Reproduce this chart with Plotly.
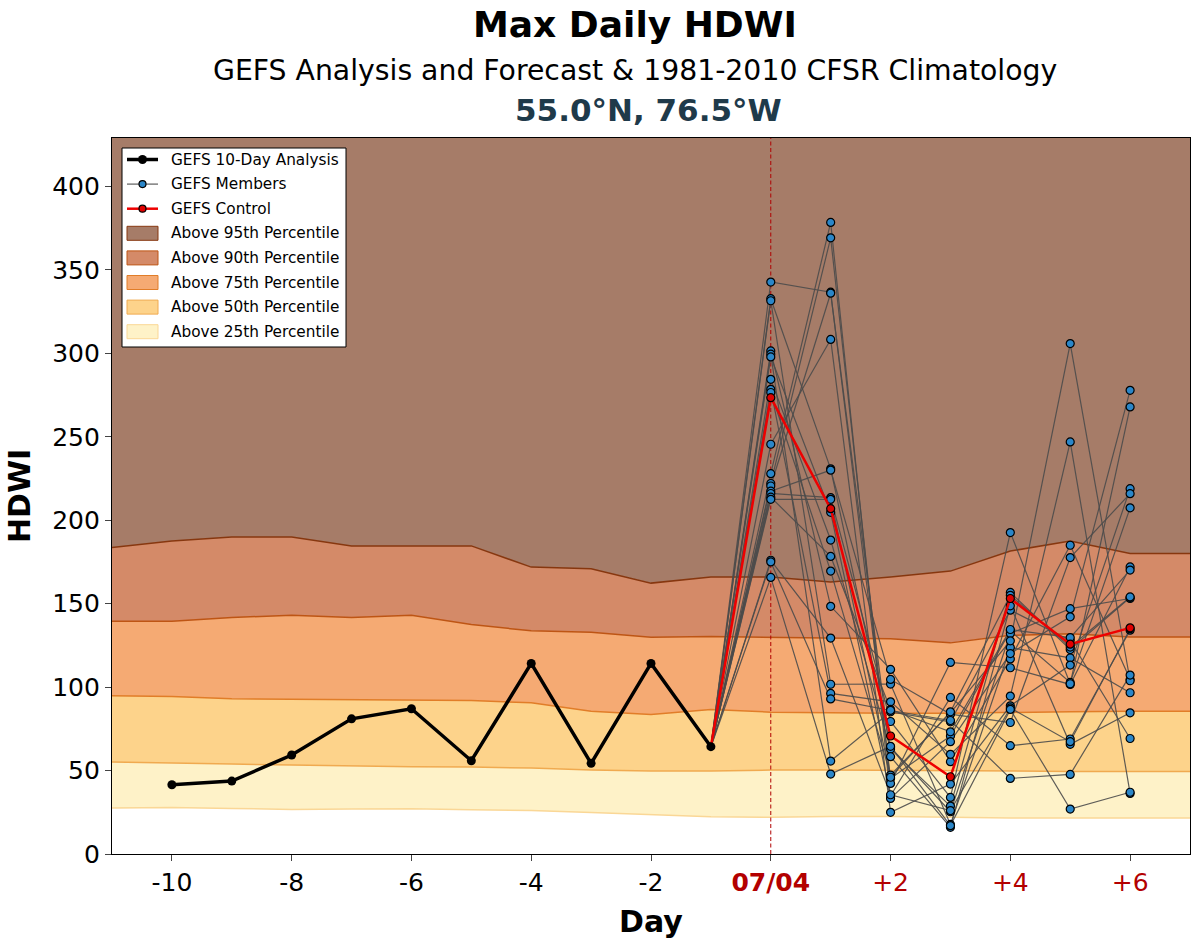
import plotly.graph_objects as go

# ---------------- data ----------------
clim_days = list(range(-11, 8))
p95 = [183.6, 187.6, 190, 190, 184.6, 184.6, 184.6, 171.9, 170.9, 162.3, 166, 166, 163, 166, 169.5, 181.5, 187.5, 180, 180]
p90 = [139.5, 139.5, 141.7, 143.1, 141.7, 143.1, 137.5, 133.7, 132.9, 129.9, 130.3, 130, 129.5, 129, 126.5, 131, 132, 130, 130]
p75 = [94.8, 94.4, 93, 92.8, 92.4, 92.4, 92, 90.6, 85.6, 83.6, 86.6, 85, 84.5, 84.3, 84.3, 85, 85.3, 85.5, 85.5]
p50 = [55.1, 54.7, 53.9, 53.3, 52.7, 52.3, 52.1, 51.5, 50.3, 49.7, 49.7, 50.3, 50.3, 50, 50, 49.5, 49.5, 49.5, 49.5]
p25 = [27.5, 27.9, 27.3, 26.7, 26.9, 27.1, 26.5, 26.1, 24.9, 23.7, 22.3, 22, 22.5, 22.5, 22, 21.5, 21.5, 21.5, 21.5]

analysis_days = list(range(-10, 0))
analysis = [41.5, 43.7, 59.3, 81, 87, 55.9, 114.2, 54.3, 114.2, 64.3]

fcst_days = list(range(0, 7))
control = [273.4, 206.9, 70.7, 46.3, 153.1, 125.7, 135.5]

members = [
    [342.7, 336.6, 45.3, 70.7, 133.7, 102.8, 207.4],
    [332.7, 230.8, 63.9, 25.3, 132.1, 147.0, 153.1],
    [331.5, 101.7, 101.8, 17.7, 123.7, 117.5, 96.6],
    [301.4, 148.4, 110.6, 55.3, 116.9, 185.0, 104.5],
    [299.5, 55.7, 85.2, 79.2, 146.1, 128.0, 69.2],
    [297.8, 204.7, 34.9, 93.8, 64.9, 68.9, 134.1],
    [284.4, 188.1, 62.9, 28.7, 156.7, 122.5, 153.7],
    [278.4, 96.2, 91.2, 59.7, 94.6, 246.9, 36.3],
    [276.5, 169.5, 47.3, 84.5, 127.7, 305.8, 103.8],
    [245.5, 308.3, 25.0, 41.9, 88.8, 113.2, 218.9],
    [227.9, 378.4, 33.3, 67.3, 120.1, 142.1, 277.8],
    [222.0, 369.2, 42.3, 114.8, 111.6, 101.6, 172.0],
    [220.5, 336.0, 58.3, 16.0, 148.7, 65.7, 84.6],
    [217.4, 230.0, 104.6, 83.8, 78.8, 177.6, 215.9],
    [216.0, 213.5, 79.4, 33.9, 192.6, 102.0, 267.9],
    [213.8, 178.3, 86.6, 73.2, 134.5, 129.7, 170.1],
    [212.5, 212.5, 46.0, 85.2, 155.0, 124.0, 154.0],
    [176.0, 129.4, 35.5, 26.0, 87.5, 67.3, 135.0],
    [175.0, 92.9, 86.0, 80.0, 45.3, 47.7, 107.2],
    [165.7, 47.9, 64.5, 17.0, 86.6, 26.9, 37.0],
]

x_tick_vals = [-10, -8, -6, -4, -2, 0, 2, 4, 6]
x_tick_text = ["-10", "-8", "-6", "-4", "-2",
               "<b><span style='color:#b30000'>07/04</span></b>",
               "<span style='color:#b30000'>+2</span>",
               "<span style='color:#b30000'>+4</span>",
               "<span style='color:#b30000'>+6</span>"]
y_tick_vals = [0, 50, 100, 150, 200, 250, 300, 350, 400]

legend_names = ["GEFS 10-Day Analysis", "GEFS Members", "GEFS Control",
                "Above 95th Percentile", "Above 90th Percentile", "Above 75th Percentile",
                "Above 50th Percentile", "Above 25th Percentile"]

x_range = [-11, 7]
y_range = [0, 429]

# ---------------- styles ----------------
fill_cols = {
    "25": "rgb(254,242,200)",
    "50": "rgb(253,211,139)",
    "75": "rgb(245,170,115)",
    "90": "rgb(212,138,104)",
    "95": "rgb(166,124,104)",
}
edge_cols = {
    "25": "rgb(250,215,150)",
    "50": "rgb(240,170,80)",
    "75": "rgb(225,125,40)",
    "90": "rgb(190,85,20)",
    "95": "rgb(135,55,15)",
}
member_line = "rgba(75,75,75,0.9)"
member_fill = "#2b86c8"
ctrl_col = "#ee0000"

W, H = 1200, 948
ML, MR, MT, MB = 112, 10, 138, 94
PW, PH = W - ML - MR, H - MT - MB


def px(xp):
    return (xp - ML) / PW


def py(yp):
    return (H - MB - yp) / PH


fig = go.Figure()

top_line = [y_range[1]] * len(clim_days)
bands = [
    ("25", p25, p50),
    ("50", p50, p75),
    ("75", p75, p90),
    ("90", p90, p95),
    ("95", p95, top_line),
]
for key, lo, hi in bands:
    fig.add_trace(go.Scatter(x=clim_days, y=lo, mode="lines",
                             line=dict(width=0, color=fill_cols[key]),
                             showlegend=False, hoverinfo="skip"))
    fig.add_trace(go.Scatter(x=clim_days, y=hi, mode="lines", fill="tonexty",
                             fillcolor=fill_cols[key],
                             line=dict(width=0, color=fill_cols[key]),
                             showlegend=False, hoverinfo="skip"))

for key, arr in [("25", p25), ("50", p50), ("75", p75), ("90", p90), ("95", p95)]:
    fig.add_trace(go.Scatter(x=clim_days, y=arr, mode="lines",
                             line=dict(width=1.5, color=edge_cols[key]),
                             showlegend=False, hoverinfo="skip"))

# vertical dashed line at day 0
fig.add_trace(go.Scatter(x=[fcst_days[0], fcst_days[0]], y=y_range, mode="lines",
                         line=dict(color="#b00000", width=1, dash="4px,2.5px"),
                         showlegend=False, hoverinfo="skip"))

# members
mx, my = [], []
for m in members:
    mx += [analysis_days[-1]] + fcst_days + [None]
    my += [analysis[-1]] + m + [None]
fig.add_trace(go.Scatter(x=mx, y=my, mode="lines",
                         line=dict(color=member_line, width=1.2),
                         showlegend=False, hoverinfo="skip"))
pmx, pmy = [], []
for m in members:
    pmx += fcst_days
    pmy += m
fig.add_trace(go.Scatter(x=pmx, y=pmy, mode="markers",
                         marker=dict(color=member_fill, size=8, line=dict(color="black", width=1.2)),
                         showlegend=False))

# control
fig.add_trace(go.Scatter(x=[analysis_days[-1]] + fcst_days, y=[analysis[-1]] + control,
                         mode="lines", line=dict(color=ctrl_col, width=2.5),
                         showlegend=False, hoverinfo="skip"))
fig.add_trace(go.Scatter(x=fcst_days, y=control, mode="markers",
                         marker=dict(color="#e00000", size=8, line=dict(color="black", width=1.2)),
                         showlegend=False))

# analysis
fig.add_trace(go.Scatter(x=analysis_days, y=analysis, mode="lines+markers",
                         line=dict(color="black", width=3.5),
                         marker=dict(color="black", size=9),
                         showlegend=False))

# ---------------- manual legend ----------------
shapes = []
annotations = []
shapes.append(dict(type="rect", xref="paper", yref="paper",
                   x0=px(122), x1=px(346), y0=py(148), y1=py(347),
                   fillcolor="white", line=dict(color="black", width=1), layer="above"))
item_y0, item_dy = 159.5, 24.6
sw_x0, sw_x1, txt_x = 127, 158, 169
line_styles = [("black", 3.5, "black", 9), (member_line, 1.2, member_fill, 7), (ctrl_col, 2.5, "#e00000", 7)]
for i, name in enumerate(legend_names):
    yc = item_y0 + i * item_dy
    if i < 3:
        lc, lw, mc, ms = line_styles[i]
        shapes.append(dict(type="line", xref="paper", yref="paper",
                           x0=px(sw_x0), x1=px(sw_x1), y0=py(yc), y1=py(yc),
                           line=dict(color=lc, width=lw), layer="above"))
        mline = dict(color="black", width=1.2) if i > 0 else dict(color="black", width=0)
        shapes.append(dict(type="circle", xref="paper", yref="paper",
                           xsizemode="pixel", ysizemode="pixel",
                           xanchor=px((sw_x0 + sw_x1) / 2), yanchor=py(yc),
                           x0=-ms / 2, x1=ms / 2, y0=-ms / 2, y1=ms / 2,
                           fillcolor=mc, line=mline, layer="above"))
    else:
        key = ["95", "90", "75", "50", "25"][i - 3]
        shapes.append(dict(type="rect", xref="paper", yref="paper",
                           x0=px(sw_x0), x1=px(sw_x1), y0=py(yc - 7), y1=py(yc + 7),
                           fillcolor=fill_cols[key], line=dict(color=edge_cols[key], width=1),
                           layer="above"))
    annotations.append(dict(text=name, xref="paper", yref="paper", x=px(txt_x), y=py(yc),
                            xanchor="left", yanchor="middle", showarrow=False,
                            font=dict(size=15.3)))

annotations += [
    dict(text="<b>Max Daily HDWI</b>", xref="paper", yref="paper", x=px(635), y=py(25),
         xanchor="center", yanchor="middle", showarrow=False, font=dict(size=36)),
    dict(text="GEFS Analysis and Forecast & 1981-2010 CFSR Climatology", xref="paper", yref="paper",
         x=px(635), y=py(70), xanchor="center", yanchor="middle", showarrow=False, font=dict(size=28.3)),
    dict(text="<b>55.0°N, 76.5°W</b>", xref="paper", yref="paper", x=px(648), y=py(110),
         xanchor="center", yanchor="middle", showarrow=False, font=dict(size=31, color="#1f3a4a")),
]

font_family = "DejaVu Sans"
fig.update_layout(
    width=W, height=H,
    margin=dict(l=ML, r=MR, t=MT, b=MB),
    paper_bgcolor="white", plot_bgcolor="white",
    font=dict(family=font_family, color="black"),
    showlegend=False,
    xaxis=dict(range=x_range, tickvals=x_tick_vals, ticktext=x_tick_text,
               showgrid=False, zeroline=False, showline=True, linecolor="black",
               linewidth=1.2, mirror=True, ticks="outside", ticklen=6, tickwidth=1.2,
               tickfont=dict(size=25), title=dict(text="<b>Day</b>", font=dict(size=30), standoff=14)),
    yaxis=dict(range=y_range, tickvals=y_tick_vals,
               showgrid=False, zeroline=False, showline=True, linecolor="black",
               linewidth=1.2, mirror=True, ticks="outside", ticklen=6, tickwidth=1.2,
               tickfont=dict(size=25), title=dict(text="<b>HDWI</b>", font=dict(size=30), standoff=12)),
    shapes=shapes,
    annotations=annotations,
)

fig.write_html("out.html")
